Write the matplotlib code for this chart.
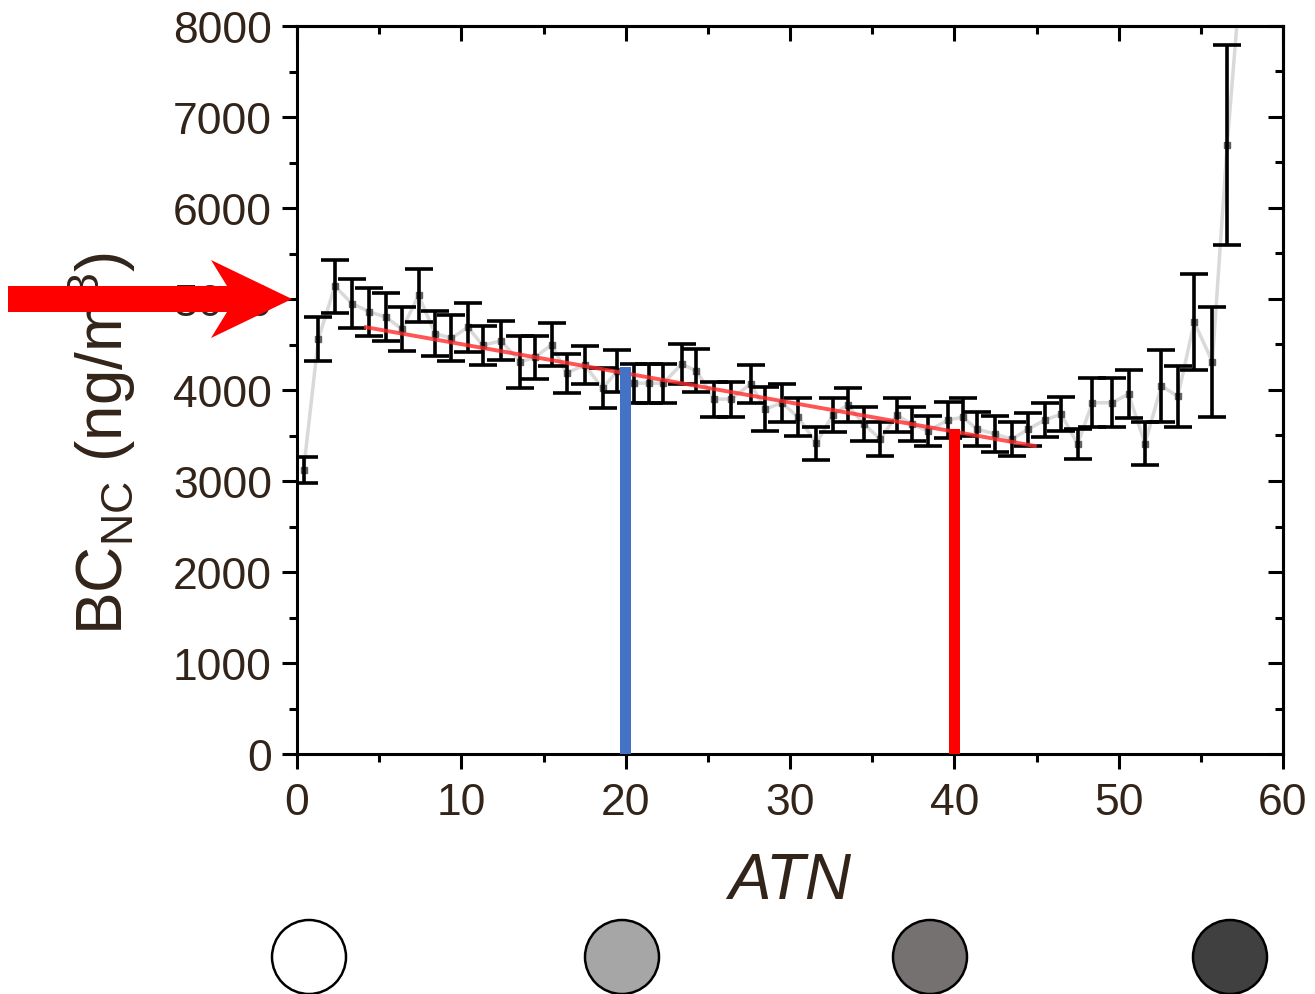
import matplotlib
matplotlib.use("Agg")
import matplotlib.pyplot as plt
from matplotlib.patches import Polygon, Ellipse

plt.rcParams['font.family'] = ['Liberation Sans', 'DejaVu Sans']
plt.rcParams['mathtext.fontset'] = 'custom'
plt.rcParams['mathtext.rm'] = 'Liberation Sans'
plt.rcParams['mathtext.it'] = 'Liberation Sans:italic'

atn = [0.4, 1.3, 2.3, 3.35, 4.4, 5.4, 6.4, 7.4, 8.4, 9.4,
       10.4, 11.3, 12.4, 13.6, 14.5, 15.5, 16.4, 17.5, 18.6, 19.5,
       20.5, 21.4, 22.3, 23.4, 24.3, 25.4, 26.4, 27.6, 28.5, 29.5,
       30.5, 31.6, 32.6, 33.5, 34.5, 35.5, 36.5, 37.4, 38.4, 39.6,
       40.5, 41.4, 42.5, 43.5, 44.5, 45.5, 46.5, 47.5, 48.4, 49.6,
       50.6, 51.6, 52.6, 53.6, 54.6, 55.7, 56.6, 57.5]
bc = [3120, 4560, 5140, 4950, 4860, 4800, 4670, 5040, 4620, 4570,
      4690, 4490, 4540, 4310, 4360, 4500, 4185, 4275, 4020, 4210,
      4075, 4075, 4075, 4285, 4210, 3900, 3900, 4065, 3790, 3860,
      3700, 3415, 3725, 3835, 3625, 3460, 3725, 3625, 3550, 3670,
      3700, 3570, 3515, 3460, 3570, 3670, 3735, 3405, 3860, 3860,
      3955, 3410, 4045, 3930, 4745, 4310, 6690, 8700]
bc_err = [140, 240, 290, 265, 265, 265, 240, 290, 250, 250,
          270, 215, 215, 285, 236, 236, 214, 210, 220, 230,
          215, 215, 215, 220, 236, 192, 192, 210, 240, 210,
          210, 180, 190, 185, 190, 185, 185, 190, 160, 200,
          210, 190, 200, 190, 180, 190, 185, 165, 270, 270,
          260, 235, 395, 335, 525, 605, 1100, 0]

# linear fit segment
fit_atn = [4.2, 44.9]
fit_bc = [4690, 3385]

# vertical markers at ATN 20 and 40
mark_atn = [20, 40]
mark_bc = [4250, 3570]
mark_colors = ['#4472c4', '#ff0000']

# filter spot shades shown under the axis
spot_colors = ['#ffffff', '#a6a6a6', '#767171', '#404040']

text_col = '#33241a'

fig = plt.figure(figsize=(13.15, 9.95), dpi=100)
ax = fig.add_axes([297 / 1315, 1 - 755 / 995, 986 / 1315, 728 / 995])

ax.plot(atn, bc, color='#d9d9d9', lw=2.5, zorder=2)
ax.plot(atn, bc, ls='none', marker='s', ms=4.5, color='#606060', zorder=3)
ax.errorbar(atn, bc, yerr=bc_err, fmt='none', ecolor='black', elinewidth=2.6,
            capsize=10, capthick=2.6, zorder=4)
ax.plot(fit_atn, fit_bc, color='#ff2a2a', lw=2.8, alpha=0.8, zorder=5)
ax.bar(mark_atn, mark_bc, width=0.7, color=mark_colors, zorder=6)

ax.set_xlim(0, 60)
ax.set_ylim(0, 8000)
ax.set_xticks(range(0, 61, 10))
ax.set_xticks(range(5, 60, 10), minor=True)
ax.set_yticks(range(0, 8001, 1000))
ax.set_yticks(range(500, 8000, 1000), minor=True)

for s in ax.spines.values():
    s.set_linewidth(2.2)
ax.tick_params(which='major', direction='out', length=11, width=2.2,
               labelsize=32, labelcolor=text_col)
ax.tick_params(which='minor', direction='out', length=6, width=2.2)
ax.tick_params(axis='y', pad=7)
ax.tick_params(axis='x', pad=9)

top = ax.secondary_xaxis('top')
top.set_xticks(range(0, 61, 10))
top.set_xticks(range(5, 60, 10), minor=True)
top.tick_params(which='major', direction='in', length=11, width=2.2, labeltop=False)
top.tick_params(which='minor', direction='in', length=6, width=2.2)
right = ax.secondary_yaxis('right')
right.set_yticks(range(0, 8001, 1000))
right.set_yticks(range(500, 8000, 1000), minor=True)
right.tick_params(which='major', direction='in', length=11, width=2.2, labelright=False)
right.tick_params(which='minor', direction='in', length=6, width=2.2)
top.spines['top'].set_linewidth(2.2)
right.spines['right'].set_linewidth(2.2)

ax.set_xlabel('ATN', fontsize=46, style='italic', color=text_col, labelpad=20)
fig.text(102 / 1315, 1 - 443 / 995, r'BC$_{\mathregular{NC}}$ (ng/m$^{\mathregular{3}}$)',
         rotation=90, fontsize=46, ha='center', va='center', color=text_col)

# red arrow pointing at 5000 on the y axis
arrow_px = [(8, 287), (227, 287), (211, 261), (292, 300), (211, 339), (227, 313), (8, 313)]
fig.add_artist(Polygon([(x / 1315, 1 - y / 995) for x, y in arrow_px], closed=True,
                       transform=fig.transFigure, facecolor='#ff0000', edgecolor='none',
                       zorder=10))

# grey shade spots
spot_x = [309, 622, 930, 1230]
for cx, c in zip(spot_x, spot_colors):
    fig.add_artist(Ellipse((cx / 1315, 1 - 958 / 995), 74 / 1315, 74 / 995,
                           transform=fig.transFigure, facecolor=c,
                           edgecolor='black', lw=1.8))

fig.savefig('out.png', dpi=100)
